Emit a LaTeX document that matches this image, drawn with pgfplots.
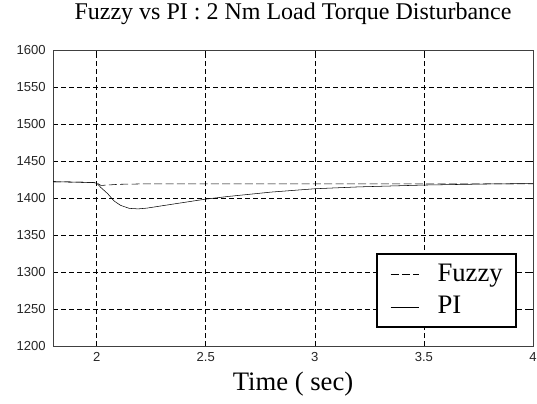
\documentclass[border=0pt]{standalone}
\usepackage{pgfplots}
\pgfplotsset{compat=1.18}
\usepackage{fontspec}
\setmainfont{Liberation Serif}
\newfontfamily\ticksans{Liberation Sans}
\begin{document}
\begin{tikzpicture}
\begin{axis}[
  scale only axis,
  width=360pt, height=222pt,
  xmin=1.8, xmax=4,
  ymin=1200, ymax=1600,
  xtick={2,2.5,3,3.5,4},
  ytick={1200,1250,...,1600},
  grid=major,
  major grid style={black, thin, dash pattern=on 3.5pt off 2.5pt},
  axis line style={black!75, line width=0.7pt},
  tick style={black, thin},
  tick align=inside,
  major tick length=3pt,
  /pgf/number format/assume math mode=true,
  /pgf/number format/1000 sep={},
  ticklabel style={font=\ticksans\fontsize{9.8}{11}\selectfont, text=black!85},
  yticklabel style={xshift=-2pt},
  xticklabel style={yshift=-1pt},
  title={Fuzzy vs PI : 2 Nm Load Torque Disturbance},
  title style={font=\fontsize{18}{20}\selectfont, at={(0.5,1)}, anchor=base, yshift=17pt},
  xlabel={Time ( sec)},
  xlabel style={font=\fontsize{20}{22}\selectfont, at={(0.5,0)}, anchor=base, yshift=-33pt},
  legend style={at={(0.9667,0.0608)}, anchor=south east, draw=black, line width=1.5pt,
    font=\fontsize{20}{22}\selectfont, inner xsep=10pt, inner ysep=6pt,
    row sep=6.5pt,
    nodes={inner xsep=0pt, inner ysep=0pt, text height=14pt, text depth=4pt}},
  legend cell align=left,
  legend image code/.code={
    \draw[#1, line width=0.75pt] (0pt,0pt) -- (21pt,0pt);
    \path (35pt,0pt);},
]
% Fuzzy controller response
\addplot[black, thin, dash pattern=on 6pt off 2.5pt] coordinates {
  (1.80,1422) (1.90,1421.5) (1.98,1421) (2.00,1420.5) (2.02,1417)
  (2.05,1417.5) (2.10,1418.5) (2.20,1419) (2.50,1419) (3.00,1419)
  (3.50,1419) (4.00,1419)
};
\addlegendentry{Fuzzy}
% PI controller response
\addplot[black, thin] coordinates {
  (1.80,1422) (1.90,1421.5) (1.98,1421) (2.00,1420) (2.02,1414)
  (2.05,1406) (2.08,1396) (2.11,1390) (2.15,1386) (2.19,1385.3)
  (2.23,1386.3) (2.30,1389.5) (2.40,1394) (2.50,1398.5) (2.60,1402)
  (2.80,1408) (3.00,1412.5) (3.20,1415) (3.50,1417.5) (3.80,1419)
  (4.00,1419.5)
};
\addlegendentry{PI}
\coordinate (sw) at (rel axis cs:0,0);
\coordinate (ne) at (rel axis cs:1,1);
\end{axis}
\pgfresetboundingbox
\path[use as bounding box] ([shift={(-39.75pt,-42.75pt)}]sw) rectangle ([shift={(3pt,37.5pt)}]ne);
\end{tikzpicture}
\end{document}
